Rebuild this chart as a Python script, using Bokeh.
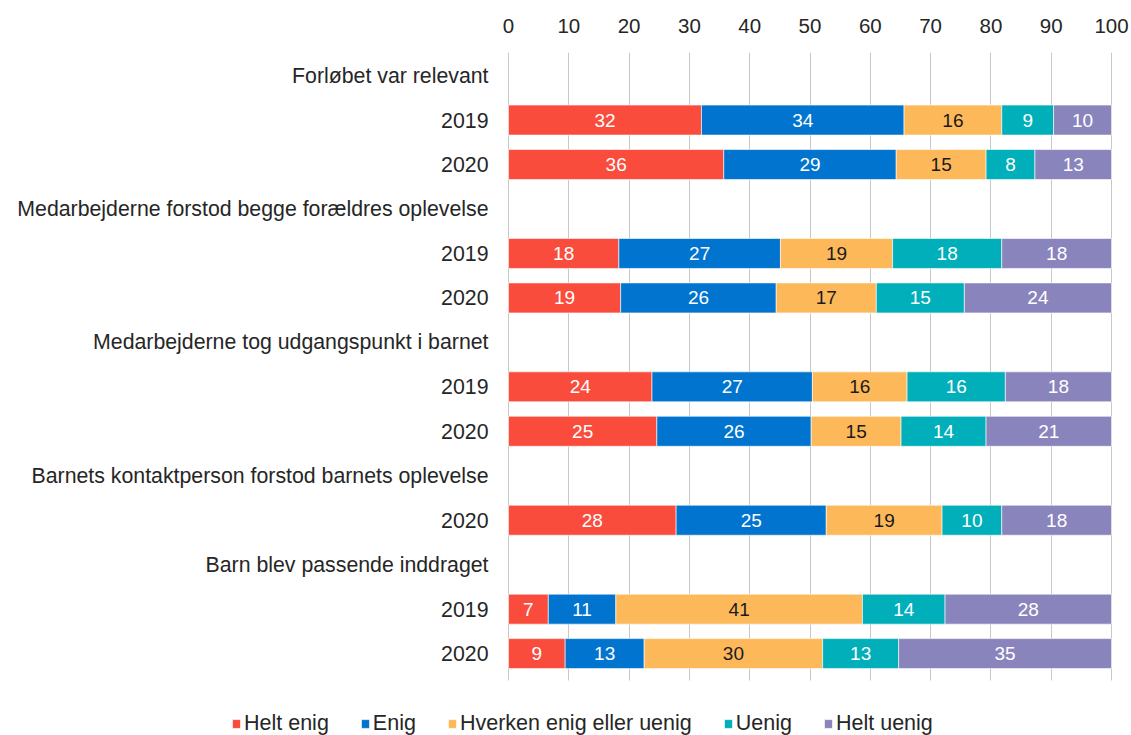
from bokeh.plotting import figure
from bokeh.models import (ColumnDataSource, Range1d, FixedTicker, Legend, LegendItem)
from bokeh.core.properties import value
from bokeh.embed import file_html
from bokeh.resources import INLINE

# ---------------- data ----------------
groups = [
    "Forløbet var relevant",
    "Medarbejderne forstod begge forældres oplevelse",
    "Medarbejderne tog udgangspunkt i barnet",
    "Barnets kontaktperson forstod barnets oplevelse",
    "Barn blev passende inddraget",
]
group_years = [["2019", "2020"], ["2019", "2020"], ["2019", "2020"], ["2020"], ["2019", "2020"]]

series_names = ["Helt enig", "Enig", "Hverken enig eller uenig", "Uenig", "Helt uenig"]
helt_enig = [32.0, 35.7, 18.3, 18.6, 23.8, 24.6, 27.8, 6.6, 9.4]
enig = [33.6, 28.6, 26.8, 25.8, 26.6, 25.6, 24.9, 11.2, 13.1]
hverken = [16.2, 14.9, 18.6, 16.6, 15.7, 14.9, 19.2, 40.9, 29.6]
uenig = [8.6, 8.1, 18.1, 14.6, 16.3, 14.1, 9.9, 13.7, 12.6]
helt_uenig = [9.6, 12.7, 18.2, 24.4, 17.6, 20.8, 18.2, 27.6, 35.3]
x_ticks = [0, 10, 20, 30, 40, 50, 60, 70, 80, 90, 100]

colors = ["#F94C3C", "#0074CF", "#FDB85A", "#00AFB9", "#8A84BC"]
label_colors = ["white", "white", "#1a1a1a", "white", "white"]

# ---------------- build rows ----------------
row_labels = []
bar_y = []
for g, yrs in zip(groups, group_years):
    row_labels.append(g)
    for yr in yrs:
        bar_y.append(len(row_labels))
        row_labels.append(yr)
n_rows = len(row_labels)

series = [helt_enig, enig, hverken, uenig, helt_uenig]

# layout geometry (pixels)
W, H = 1131, 735
X0, X1 = 508, 1111          # pixel position of value 0 and 100
TOP = 52
ROW_PX = 44.46
px_per_unit = (X1 - X0) / 100.0
x_start = -X0 / px_per_unit
x_end = (W - X0) / px_per_unit
y_top = -0.52
y_bottom = y_top + (H - TOP) / ROW_PX

p = figure(width=W, height=H, output_backend="svg", toolbar_location=None,
           x_range=Range1d(x_start, x_end), y_range=Range1d(y_bottom, y_top),
           x_axis_location="above", y_axis_location=None,
           min_border_left=0, min_border_right=0,
           min_border_top=TOP, min_border_bottom=0)
p.outline_line_color = None
p.background_fill_color = "white"
p.border_fill_color = "white"

FONT = "'Liberation Sans', Arial, sans-serif"
NARROW = "'Liberation Sans Narrow', 'Arial Narrow', 'Liberation Sans', sans-serif"

# top axis
xa = p.xaxis[0]
xa.ticker = FixedTicker(ticks=x_ticks)
xa.axis_line_color = None
xa.major_tick_line_color = None
xa.minor_tick_line_color = None
xa.major_label_standoff = 14
xa.major_label_text_font = FONT
xa.major_label_text_font_size = "20.5px"
xa.major_label_text_color = "#262626"

p.xgrid.grid_line_color = "#C8C8C8"
p.xgrid.grid_line_width = 1
p.xgrid.ticker = FixedTicker(ticks=x_ticks)
try:
    p.xgrid.cross_bounds = (y_top, n_rows - 0.4)
except Exception:
    pass
p.ygrid.grid_line_color = None

# row labels (category names and years), right-aligned left of the zero line
lab_src = ColumnDataSource(dict(x=[0] * n_rows, y=list(range(n_rows)), t=row_labels))
p.text(x="x", y="y", text="t", source=lab_src, x_offset=-20, text_align="right",
       text_baseline="middle", text_color="#262626", text_font=value(FONT),
       text_font_size="21.3px")

# bars
left = [0.0] * len(bar_y)
items = []
for name, vals, col, lc in zip(series_names, series, colors, label_colors):
    right = [l + v for l, v in zip(left, vals)]
    src = ColumnDataSource(dict(
        y=bar_y, left=left, right=right,
        mid=[(l + r) / 2 for l, r in zip(left, right)],
        lbl=[f"{v:.0f}" for v in vals],
    ))
    r = p.hbar(y="y", left="left", right="right", height=0.675, source=src,
               fill_color=col, line_color="white", line_width=0.6)
    p.text(x="mid", y="y", text="lbl", source=src, text_align="center",
           text_baseline="middle", text_color=lc, text_font=value(NARROW),
           text_font_size="19px")
    items.append(LegendItem(label=name, renderers=[r]))
    left = right

legend = Legend(items=items, orientation="horizontal", location=(231, -1),
                glyph_width=10, glyph_height=11, label_standoff=3, spacing=31,
                padding=0, margin=0, border_line_alpha=0, background_fill_alpha=0,
                label_text_font=FONT, label_text_font_size="21.5px",
                label_text_color="#262626")
p.add_layout(legend, "center")

open("out.html", "w").write(file_html(p, INLINE))
